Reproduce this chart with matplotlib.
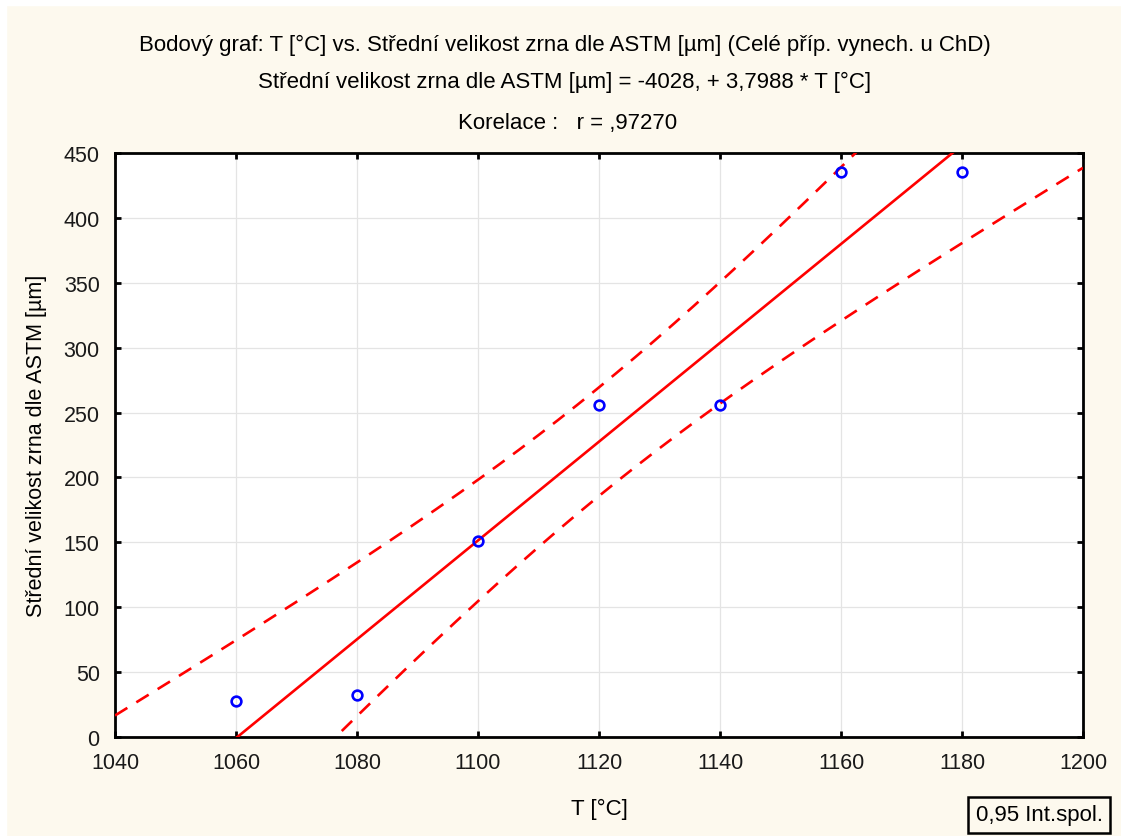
import matplotlib
matplotlib.use("Agg")
import matplotlib.pyplot as plt
import numpy as np
from matplotlib.patches import Rectangle

# data
T = np.array([1060, 1080, 1100, 1120, 1140, 1160, 1180])
zrno = np.array([28, 32, 151, 256, 256, 435, 435])
t_crit = 2.5706  # t(0.975, df=5)

xticks = [1040, 1060, 1080, 1100, 1120, 1140, 1160, 1180, 1200]
yticks = [0, 50, 100, 150, 200, 250, 300, 350, 400, 450]

plt.rcParams['font.family'] = ['Liberation Sans', 'DejaVu Sans']

bg = '#fdf9ee'
fig = plt.figure(figsize=(11.21, 8.37), dpi=100, facecolor=bg)
fig.add_artist(Rectangle((0, 0), 6/1121, 1, transform=fig.transFigure, color='white', zorder=0))
fig.add_artist(Rectangle((0, 1-6/837), 1, 6/837, transform=fig.transFigure, color='white', zorder=0))
ax = fig.add_axes([115/1121, 99/837, 968/1121, 584/837])
ax.set_facecolor('white')

# regression + 95% confidence band for the mean
slope, icpt = np.polyfit(T, zrno, 1)
n = len(T)
resid = zrno - (icpt + slope*T)
s = np.sqrt(np.sum(resid**2)/(n-2))
xx = np.linspace(1040, 1200, 200)
yy = icpt + slope*xx
half = t_crit*s*np.sqrt(1/n + (xx - T.mean())**2/np.sum((T - T.mean())**2))

ax.plot(xx, yy, color='#ff0000', lw=1.9, zorder=3)
ax.plot(xx, yy + half, color='#ff0000', lw=1.9, ls=(0, (5.5, 4)), zorder=3)
ax.plot(xx, yy - half, color='#ff0000', lw=1.9, ls=(0, (5.5, 4)), zorder=3)
ax.plot(T, zrno, 'o', mfc='none', mec='#0000ff', mew=1.9, ms=7, zorder=4)

ax.set_xlim(1040, 1200)
ax.set_ylim(0, 450)
ax.set_xticks(xticks)
ax.set_yticks(yticks)
ax.grid(color='#e4e4e4', lw=0.9)
ax.set_axisbelow(True)
ax.tick_params(direction='in', length=4, width=2, top=True, right=True,
               labelsize=15.5, labelcolor='#1a1a1a', pad=11)
for sp in ax.spines.values():
    sp.set_linewidth(2)

ax.set_xlabel('T [°C]', fontsize=16, labelpad=18)
ax.set_ylabel('Střední velikost zrna dle ASTM [µm]', fontsize=15.5, labelpad=12)

fig.text(0.504, 1-45/837, 'Bodový graf: T [°C] vs. Střední velikost zrna dle ASTM [µm] (Celé příp. vynech. u ChD)',
         ha='center', va='center', fontsize=16)
fig.text(0.504, 1-82/837, 'Střední velikost zrna dle ASTM [µm] = -4028, + 3,7988 * T [°C]',
         ha='center', va='center', fontsize=16)
fig.text(0.506, 1-124/837, 'Korelace :   r = ,97270', ha='center', va='center', fontsize=16)

fig.text(1039/1121, 1-816/837, '0,95 Int.spol.', ha='center', va='center', fontsize=16,
         bbox=dict(boxstyle='square,pad=0.35', fc=bg, ec='black', lw=1.8))

fig.savefig('out.png', dpi=100, facecolor=bg)
